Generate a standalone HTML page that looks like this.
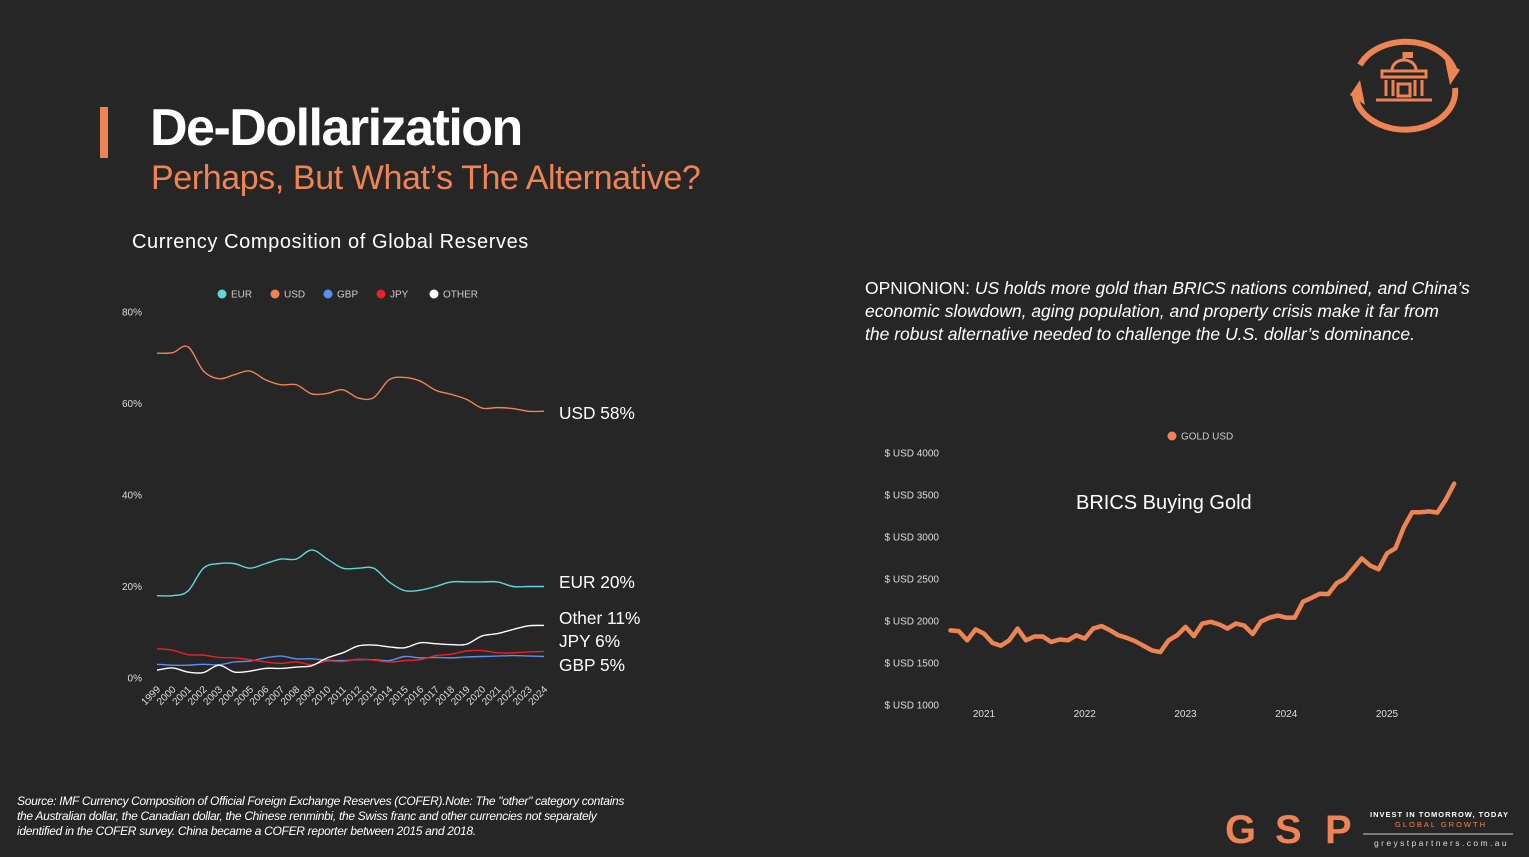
<!DOCTYPE html>
<html><head><meta charset="utf-8">
<style>
html,body{margin:0;padding:0;background:#262626;}
svg{display:block;font-family:"Liberation Sans",sans-serif;}
</style></head>
<body>
<svg id="page" width="1529" height="857" viewBox="0 0 1529 857" xmlns="http://www.w3.org/2000/svg">
<rect x="0" y="0" width="1529" height="857" fill="#262626"/>
<rect x="100" y="107" width="8" height="51" fill="#ee8354"/>
<text x="150" y="145" font-size="52" font-weight="bold" fill="#ffffff" letter-spacing="-1.5">De-Dollarization</text>
<text x="151" y="189" font-size="34" fill="#ee8354" letter-spacing="-0.4">Perhaps, But What’s The Alternative?</text>
<text x="132" y="248" font-size="20" fill="#ffffff" letter-spacing="0.6">Currency Composition of Global Reserves</text>

<g font-size="17.5" font-style="italic" fill="#ffffff">
<text x="865" y="294"><tspan font-style="normal">OPNIONION: </tspan>US holds more gold than BRICS nations combined, and  China’s</text>
<text x="865" y="317">economic slowdown, aging population, and property crisis make it far from</text>
<text x="865" y="340">the robust alternative needed to challenge the U.S. dollar’s dominance.</text>
</g>

<g fill="none" stroke="#ee8354" stroke-width="6">
<path d="M1360 65 A50 38 0 0 1 1455 72"/>
<path d="M1455 88 A50 38 0 0 1 1355 95"/>
<polygon points="1445,60 1460,70 1450,85" fill="#ee8354" stroke="none"/>
<polygon points="1365,105 1350,95 1360,80" fill="#ee8354" stroke="none"/>
<g stroke-width="3">
<path d="M1392 70 A12 10 0 0 1 1416 70"/>
<line x1="1404" y1="60" x2="1404" y2="52"/>
<rect x="1382" y="71" width="44" height="6"/>
<line x1="1386" y1="80" x2="1386" y2="96"/><line x1="1393" y1="80" x2="1393" y2="96"/>
<line x1="1415" y1="80" x2="1415" y2="96"/><line x1="1422" y1="80" x2="1422" y2="96"/>
<rect x="1398" y="84" width="12" height="12"/>
<line x1="1376" y1="100" x2="1432" y2="100"/>
</g>
<rect x="1404" y="52" width="9" height="6" fill="#ee8354" stroke="none"/>
</g>

<g id="left-chart"></g>
<g id="right-chart"></g>

<g font-size="12" font-style="italic" fill="#ffffff" letter-spacing="-0.3">
<text x="17" y="805">Source: IMF Currency Composition of Official Foreign Exchange Reserves (COFER).Note: The "other" category contains</text>
<text x="17" y="820">the Australian dollar, the Canadian dollar, the Chinese renminbi, the Swiss franc and other currencies not separately</text>
<text x="17" y="835">identified in the COFER survey. China became a COFER reporter between 2015 and 2018.</text>
</g>

<g>
<text x="1225" y="843" font-size="40" font-weight="bold" fill="#ee8354">G</text>
<text x="1275" y="843" font-size="40" font-weight="bold" fill="#ee8354">S</text>
<text x="1325" y="843" font-size="40" font-weight="bold" fill="#ee8354">P</text>
<text x="1370" y="817" font-size="7.5" font-weight="bold" fill="#ffffff" letter-spacing="1.0">INVEST IN TOMORROW, TODAY</text>
<text x="1395" y="827" font-size="7.5" fill="#ee8354" letter-spacing="2.0">GLOBAL GROWTH</text>
<line x1="1363" y1="834" x2="1513" y2="834" stroke="#cccccc" stroke-width="1"/>
<text x="1374" y="846" font-size="8.5" fill="#dddddd" letter-spacing="2.4">greystpartners.com.au</text>
</g>
</svg>
<script>
const years = [1999,2000,2001,2002,2003,2004,2005,2006,2007,2008,2009,2010,2011,2012,2013,2014,2015,2016,2017,2018,2019,2020,2021,2022,2023,2024];
const usd = [71.0,71.1,72.4,67.1,65.4,66.3,67.1,65.2,64.1,64.1,62.1,62.2,63.0,61.2,61.3,65.2,65.7,64.9,62.9,62.0,60.9,59.0,59.1,58.9,58.3,58.3];
const eur = [18.0,18.0,19.0,24.0,25.0,25.0,24.0,25.0,26.0,26.0,28.0,26.0,24.0,24.0,24.0,21.0,19.1,19.2,20.0,21.0,21.0,21.0,21.0,20.0,20.0,20.0];
const gbp = [3.0,2.8,2.8,3.0,2.9,3.5,3.7,4.4,4.8,4.2,4.2,3.9,3.8,4.0,4.0,3.8,4.7,4.4,4.5,4.4,4.6,4.7,4.8,4.9,4.8,4.7];
const jpy = [6.4,6.1,5.1,5.0,4.5,4.4,4.0,3.5,3.2,3.5,2.9,3.7,3.6,4.1,3.9,3.5,3.8,4.0,4.9,5.2,5.9,6.0,5.5,5.5,5.7,5.8];
const other = [1.7,2.2,1.3,1.2,2.8,1.3,1.5,2.1,2.1,2.4,2.7,4.4,5.5,7.0,7.2,6.8,6.6,7.7,7.5,7.3,7.4,9.2,9.7,10.6,11.4,11.5];
const pctTicks = [0,20,40,60,80];
const seriesNames = ["EUR","USD","GBP","JPY","OTHER"];
const endLabels = ["USD 58%","EUR 20%","Other 11%","JPY 6%","GBP 5%"];

const goldMonths = ["2020-09","2020-10","2020-11","2020-12","2021-01","2021-02","2021-03","2021-04","2021-05","2021-06","2021-07","2021-08","2021-09","2021-10","2021-11","2021-12","2022-01","2022-02","2022-03","2022-04","2022-05","2022-06","2022-07","2022-08","2022-09","2022-10","2022-11","2022-12","2023-01","2023-02","2023-03","2023-04","2023-05","2023-06","2023-07","2023-08","2023-09","2023-10","2023-11","2023-12","2024-01","2024-02","2024-03","2024-04","2024-05","2024-06","2024-07","2024-08","2024-09","2024-10","2024-11","2024-12","2025-01","2025-02","2025-03","2025-04","2025-05","2025-06","2025-07","2025-08","2025-09"];
const goldPrice = [1888,1880,1770,1900,1850,1740,1705,1770,1910,1770,1815,1815,1750,1780,1770,1830,1790,1910,1940,1890,1830,1800,1760,1705,1650,1630,1770,1830,1930,1820,1970,1990,1960,1910,1970,1945,1845,1995,2040,2065,2040,2040,2230,2275,2325,2320,2450,2505,2625,2745,2660,2615,2805,2865,3115,3295,3295,3305,3290,3445,3635];
const goldTicks = [1000,1500,2000,2500,3000,3500,4000];
const goldYears = [2021,2022,2023,2024,2025];

const NS = "http://www.w3.org/2000/svg";
function mk(tag, attrs, parent){const e=document.createElementNS(NS,tag);for(const k in attrs)e.setAttribute(k,attrs[k]);parent.appendChild(e);return e;}
function smooth(pts){let d="M"+pts[0][0]+" "+pts[0][1];for(let i=0;i<pts.length-1;i++){const p0=pts[i-1]||pts[i],p1=pts[i],p2=pts[i+1],p3=pts[i+2]||p2;const t=0.17;d+=" C"+(p1[0]+(p2[0]-p0[0])*t)+" "+(p1[1]+(p2[1]-p0[1])*t)+" "+(p2[0]-(p3[0]-p1[0])*t)+" "+(p2[1]-(p3[1]-p1[1])*t)+" "+p2[0]+" "+p2[1];}return d;}

// Left chart
const L = document.getElementById("left-chart");
const lx = y => 157 + (y-1999)*(544-157)/25;
const ly = v => 678 - v*(678-312)/80;
pctTicks.forEach(t=>{
  const e=mk("text",{x:142,y:ly(t)+3.5,"font-size":10,fill:"#dddddd","text-anchor":"end"},L);e.textContent=t+"%";
  
  
});
years.forEach(y=>{
  const e=mk("text",{x:lx(y)+4,y:690,"font-size":10,fill:"#dddddd","text-anchor":"end",transform:"rotate(-45 "+(lx(y)+4)+" 690)"},L);e.textContent=y;
  
  
});
const colors={EUR:"#5ed8d8",USD:"#ee8354",GBP:"#5b8ff0",JPY:"#e8212a",OTHER:"#ffffff"};
const dataMap={EUR:eur,USD:usd,GBP:gbp,JPY:jpy,OTHER:other};
const legX=[222,275,328,381,434];
seriesNames.forEach((n,i)=>{
  const c=mk("circle",{cx:legX[i],cy:294,r:4.5,fill:colors[n]},L);
  
  
  const t=mk("text",{x:legX[i]+9,y:297.5,"font-size":10,fill:"#cccccc"},L);t.textContent=n;
  
  
});
["GBP","JPY","OTHER","EUR","USD"].forEach(n=>{
  const pts=years.map((y,i)=>[lx(y),ly(dataMap[n][i])]);
  const p=mk("path",{d:smooth(pts),fill:"none",stroke:colors[n],"stroke-width":1.4},L);
  
  
});
const labY=[419,588,624,647,671];
endLabels.forEach((s,i)=>{
  const t=mk("text",{x:559,y:labY[i],"font-size":17.3,fill:"#ffffff"},L);t.textContent=s;
  
  
});

// Right chart
const R = document.getElementById("right-chart");
const gx = m => {const [y,mo]=m.split("-").map(Number);return 984 + ((y-2021)*12+(mo-1))*(1387-984)/48;};
const gy = v => 705 - (v-1000)*(705-453)/3000;
goldTicks.forEach(t=>{
  const e=mk("text",{x:939,y:gy(t)+3.5,"font-size":10,fill:"#dddddd","text-anchor":"end"},R);e.textContent="$ USD "+t;
  
  
});
goldYears.forEach(y=>{
  const e=mk("text",{x:gx(y+"-01"),y:717,"font-size":10,fill:"#dddddd","text-anchor":"middle"},R);e.textContent=y;
  
  
});
const gc=mk("circle",{cx:1172,cy:436,r:4.5,fill:"#ee8354"},R);


const gt=mk("text",{x:1181,y:439.5,"font-size":10,fill:"#cccccc"},R);gt.textContent="GOLD USD";


const bt=mk("text",{x:1076,y:509,"font-size":20,fill:"#ffffff"},R);bt.textContent="BRICS Buying Gold";


const gp=mk("polyline",{points:goldMonths.map((m,i)=>gx(m)+","+gy(goldPrice[i])).join(" "),fill:"none",stroke:"#ee8354","stroke-width":4.5,"stroke-linejoin":"round","stroke-linecap":"round"},R);


</script>
</body></html>
